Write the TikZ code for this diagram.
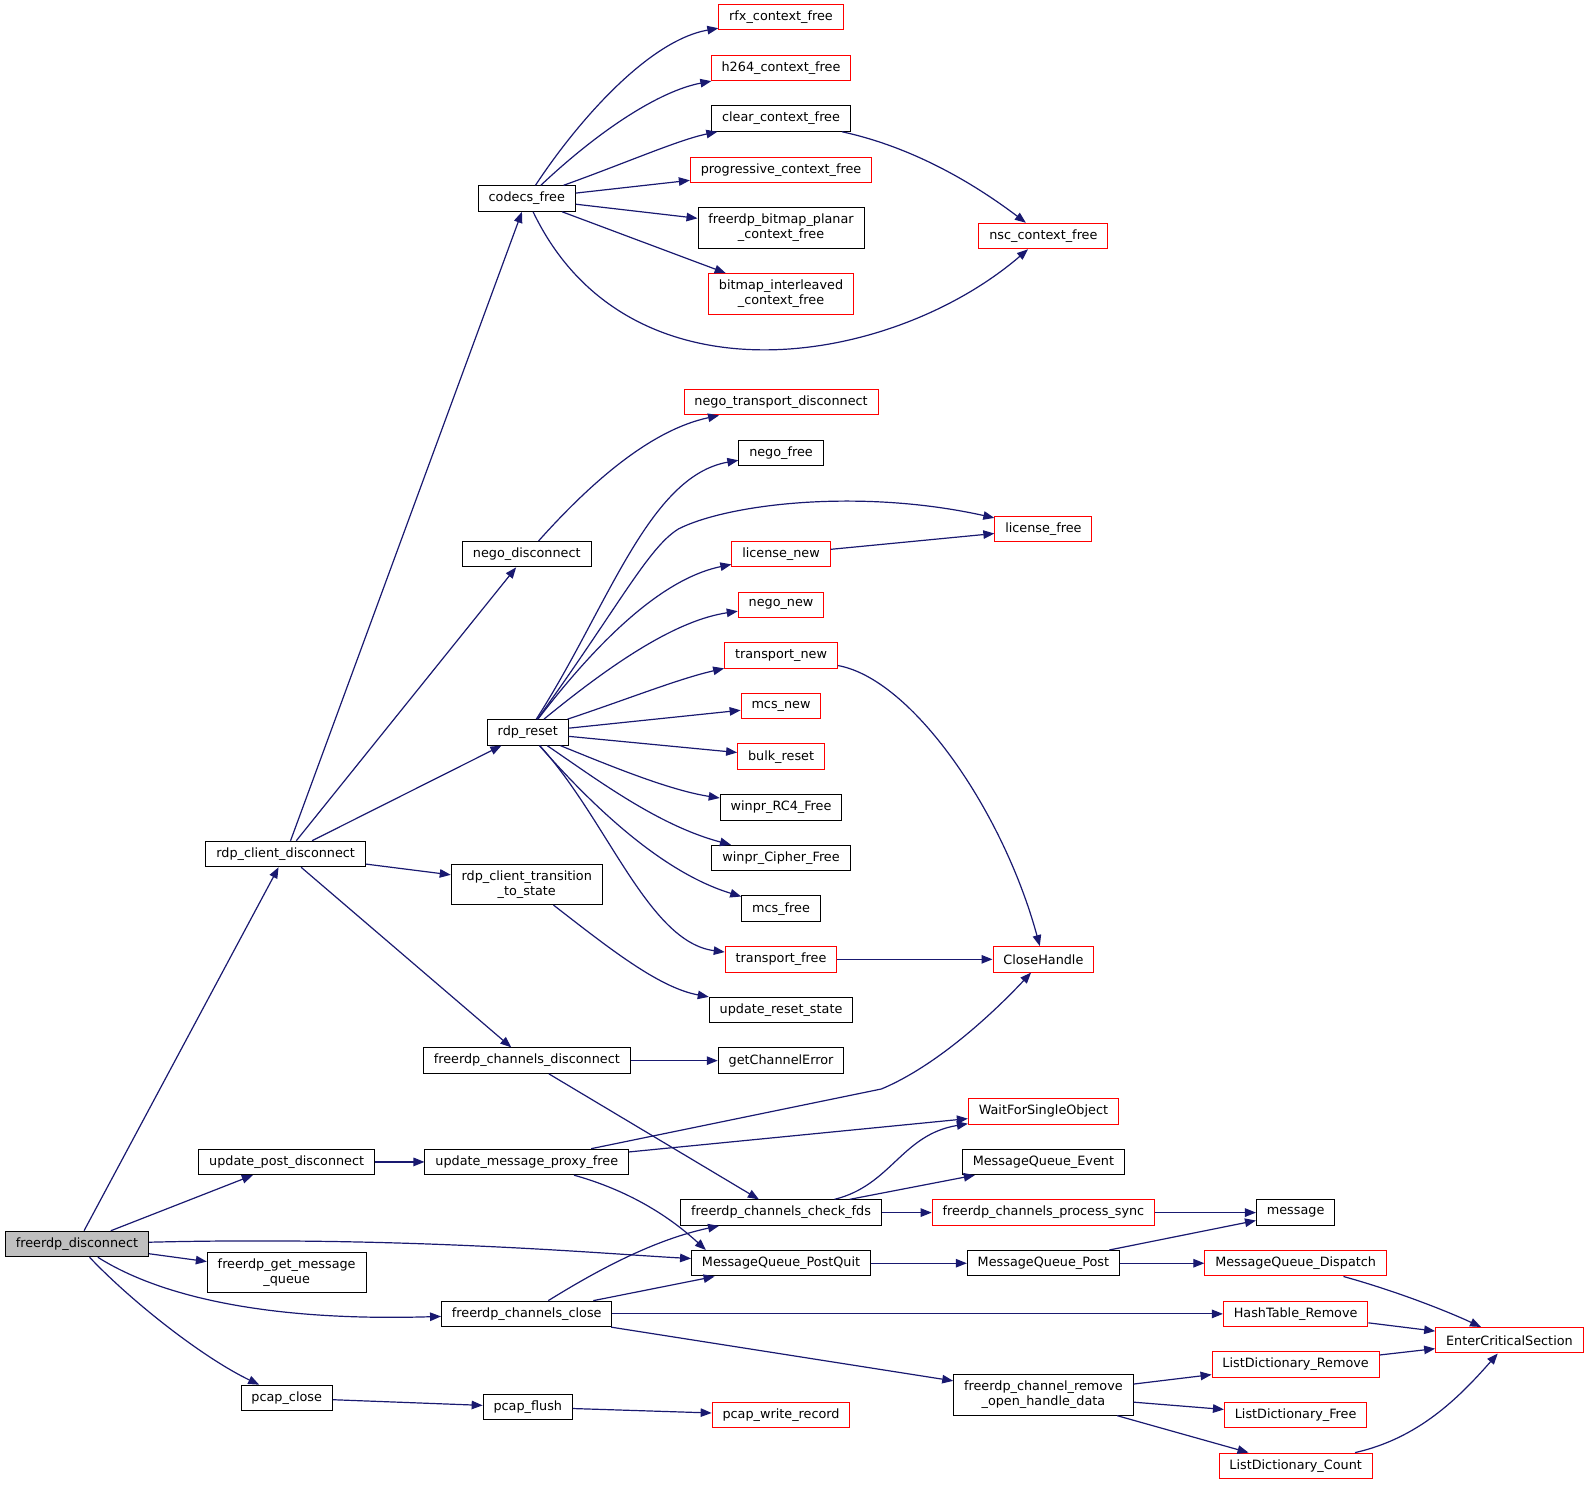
\documentclass[tikz,border=0pt]{standalone}
\usepackage{fontspec}
\setmainfont{DejaVu Sans}
\usetikzlibrary{arrows.meta}
\definecolor{edgec}{HTML}{191970}
\definecolor{grayfill}{HTML}{BFBFBF}
\begin{document}
\begin{tikzpicture}[x=1.013pt,y=-1.013pt,
  fn/.style={draw=black, line width=1pt, fill=white, inner xsep=10.4pt, inner ysep=0pt,
    minimum height=25.5pt, font=\fontsize{12.8}{14.7}\selectfont, align=center},
  fnr/.style={fn, draw=red},
  two/.style={minimum height=40.5pt},
  call/.style={draw=edgec, line width=1.2pt, -{Triangle[length=11pt,width=8.5pt]}}]
\useasboundingbox (0,0) rectangle (1567.6,1467.9);
% column 1
\node[fn, fill=grayfill] (fd) at (76,1228) {freerdp\_disconnect};
% column 2
\node[fn] (rcd) at (282,843) {rdp\_client\_disconnect};
\node[fn] (upd) at (283,1147) {update\_post\_disconnect};
\node[fn,two] (fgmq) at (283,1256) {freerdp\_get\_message\\\_queue};
\node[fn] (pc) at (283,1380) {pcap\_close};
% column 3
\node[fn] (cf) at (520,196) {codecs\_free};
\node[fn] (nd) at (520,547) {nego\_disconnect};
\node[fn] (rr) at (521,723) {rdp\_reset};
\node[fn,two] (rct) at (520,873) {rdp\_client\_transition\\\_to\_state};
\node[fn] (fcd) at (520,1047) {freerdp\_channels\_disconnect};
\node[fn] (umpf) at (520,1147) {update\_message\_proxy\_free};
\node[fn] (fcc) at (520,1297) {freerdp\_channels\_close};
\node[fn] (pf) at (521,1389) {pcap\_flush};
% column 4
\node[fnr] (rfx) at (771,17) {rfx\_context\_free};
\node[fnr] (h264) at (771,67) {h264\_context\_free};
\node[fn] (clr) at (771,117) {clear\_context\_free};
\node[fnr] (prog) at (771,168) {progressive\_context\_free};
\node[fn,two] (planar) at (771,225) {freerdp\_bitmap\_planar\\\_context\_free};
\node[fnr,two] (inter) at (771,290) {bitmap\_interleaved\\\_context\_free};
\node[fnr] (ntd) at (771,397) {nego\_transport\_disconnect};
\node[fn] (nf) at (771,447) {nego\_free};
\node[fnr] (ln) at (771,547) {license\_new};
\node[fnr] (nn) at (771,597) {nego\_new};
\node[fnr] (tn) at (771,647) {transport\_new};
\node[fnr] (mn) at (771,697) {mcs\_new};
\node[fnr] (br) at (771,747) {bulk\_reset};
\node[fn] (rc4) at (771,797) {winpr\_RC4\_Free};
\node[fn] (cip) at (771,847) {winpr\_Cipher\_Free};
\node[fn] (mf) at (771,897) {mcs\_free};
\node[fnr] (tf) at (771,947) {transport\_free};
\node[fn] (urs) at (771,997) {update\_reset\_state};
\node[fn] (gce) at (771,1047) {getChannelError};
\node[fn] (cfds) at (771,1197) {freerdp\_channels\_check\_fds};
\node[fn] (mpq) at (771,1247) {MessageQueue\_PostQuit};
\node[fnr] (pwr) at (771,1397) {pcap\_write\_record};
% column 5
\node[fnr] (nsc) at (1030,233) {nsc\_context\_free};
\node[fnr] (lf) at (1030,522) {license\_free};
\node[fnr] (ch) at (1030,947) {CloseHandle};
\node[fnr] (wfso) at (1030,1097) {WaitForSingleObject};
\node[fn] (mqe) at (1030,1147) {MessageQueue\_Event};
\node[fnr] (fcps) at (1030,1197) {freerdp\_channels\_process\_sync};
\node[fn] (mqp) at (1030,1247) {MessageQueue\_Post};
\node[fn,two] (frohd) at (1030,1377) {freerdp\_channel\_remove\\\_open\_handle\_data};
% column 6
\node[fn] (msg) at (1279,1197) {message};
\node[fnr] (mqd) at (1279,1247) {MessageQueue\_Dispatch};
\node[fnr] (htr) at (1279,1297) {HashTable\_Remove};
\node[fnr] (ldr) at (1279,1347) {ListDictionary\_Remove};
\node[fnr] (ldf) at (1279,1397) {ListDictionary\_Free};
\node[fnr] (ldc) at (1279,1447) {ListDictionary\_Count};
% column 7
\node[fnr] (ecs) at (1490,1323) {EnterCriticalSection};

% edges from freerdp_disconnect
\draw[call] (fd) -- (rcd);
\draw[call] (fd) -- (upd);
\draw[call] (fd) .. controls (400,1220) and (600,1238) .. (mpq);
\draw[call] (fd) -- (fgmq);
\draw[call] (fd) .. controls (150,1275) and (250,1305) .. (fcc);
\draw[call] (fd) .. controls (130,1285) and (200,1340) .. (pc);
% rdp_client_disconnect
\draw[call] (rcd) -- (cf);
\draw[call] (rcd) -- (nd);
\draw[call] (rcd) -- (rr);
\draw[call] (rcd) -- (rct);
\draw[call] (rcd) -- (fcd);
\draw[call] (upd) -- (umpf);
\draw[call] (pc) -- (pf);
% codecs_free
\draw[call] (cf) .. controls (570,120) and (640,40) .. (rfx);
\draw[call] (cf) .. controls (590,130) and (650,90) .. (h264);
\draw[call] (cf) .. controls (620,160) and (670,138) .. (clr);
\draw[call] (cf) -- (prog);
\draw[call] (cf) -- (planar);
\draw[call] (cf) -- (inter);
\draw[call] (cf) .. controls (620,405) and (880,362) .. (nsc);
\draw[call] (clr) .. controls (900,145) and (960,180) .. (nsc);
% nego_disconnect
\draw[call] (nd) .. controls (580,480) and (640,425) .. (ntd);
% rdp_reset
\draw[call] (rr) .. controls (600,600) and (640,470) .. (nf);
\draw[call] (rr) .. controls (610,600) and (640,540) .. (670,522) .. controls (720,497) and (850,482) .. (lf);
\draw[call] (rr) .. controls (600,620) and (660,570) .. (ln);
\draw[call] (rr) .. controls (610,650) and (670,612) .. (nn);
\draw[call] (rr) .. controls (620,690) and (670,670) .. (tn);
\draw[call] (rr) -- (mn);
\draw[call] (rr) -- (br);
\draw[call] (rr) .. controls (600,755) and (660,780) .. (rc4);
\draw[call] (rr) .. controls (590,770) and (650,815) .. (cip);
\draw[call] (rr) .. controls (580,790) and (650,860) .. (mf);
\draw[call] (rr) .. controls (600,810) and (640,930) .. (tf);
\draw[call] (ln) -- (lf);
\draw[call] (tn) .. controls (900,670) and (990,800) .. (ch);
\draw[call] (tf) -- (ch);
\draw[call] (rct) .. controls (600,935) and (650,975) .. (urs);
% channels
\draw[call] (fcd) -- (gce);
\draw[call] (fcd) -- (cfds);
\draw[call] (umpf) -- (870,1075) .. controls (930,1050) and (990,990) .. (ch);
\draw[call] (umpf) -- (wfso);
\draw[call] (umpf) .. controls (620,1175) and (660,1200) .. (mpq.170);
\draw[call] (cfds) .. controls (880,1170) and (890,1120) .. (wfso);
\draw[call] (cfds) -- (mqe);
\draw[call] (cfds) -- (fcps);
\draw[call] (fcc) .. controls (580,1260) and (640,1225) .. (cfds);
\draw[call] (fcc) -- (mpq);
\draw[call] (fcc) -- (htr);
\draw[call] (fcc) -- (frohd);
\draw[call] (pf) -- (pwr);
\draw[call] (mpq) -- (mqp);
\draw[call] (fcps) -- (msg);
\draw[call] (mqp) -- (msg);
\draw[call] (mqp) -- (mqd);
\draw[call] (mqd) .. controls (1380,1275) and (1430,1295) .. (ecs);
\draw[call] (htr) -- (ecs);
\draw[call] (ldr) -- (ecs);
\draw[call] (frohd) -- (ldr);
\draw[call] (frohd) -- (ldf);
\draw[call] (frohd) -- (ldc);
\draw[call] (ldc) .. controls (1400,1420) and (1440,1380) .. (ecs);
\end{tikzpicture}
\end{document}
